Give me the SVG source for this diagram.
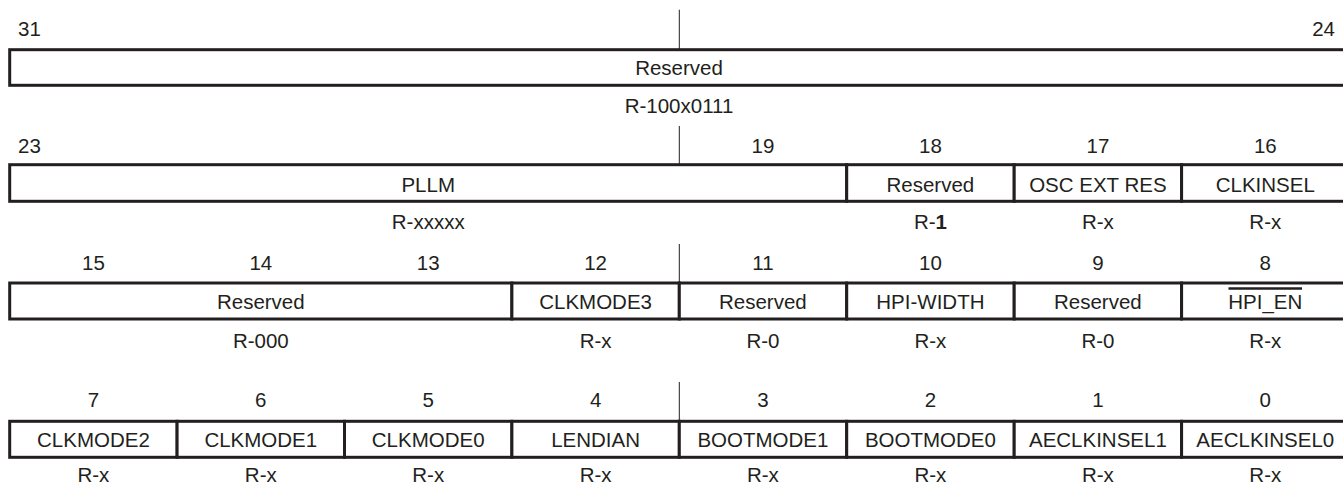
<svg xmlns="http://www.w3.org/2000/svg" width="1343" height="486" viewBox="0 0 1343 486">
<style>
.f{fill:#ffffff;stroke:#231f20;stroke-width:3}
.t{font-family:"Liberation Sans",Arial,sans-serif;font-size:20.5px;fill:#231f20;text-anchor:middle}
.l{text-anchor:start}
.r{text-anchor:end}
.tick{stroke:#231f20;stroke-width:1}
</style>
<rect width="1343" height="486" fill="#ffffff"/>
<g id="connectors">
<line class="tick" x1="679.3" y1="9.7" x2="679.3" y2="49.7"/>
<line class="tick" x1="679.3" y1="126" x2="679.3" y2="164.7"/>
<line class="tick" x1="679.3" y1="244" x2="679.3" y2="283"/>
<line class="tick" x1="679.3" y1="382" x2="679.3" y2="421.3"/>
</g>
<g id="bits">
<text class="t l" x="18" y="36">31</text>
<text class="t r" x="1335" y="36">24</text>
<text class="t l" x="18" y="152.7">23</text>
<text class="t" x="762.9" y="152.7">19</text>
<text class="t" x="930.4" y="152.7">18</text>
<text class="t" x="1097.9" y="152.7">17</text>
<text class="t" x="1265.3" y="152.7">16</text>
<text class="t" x="93.4" y="270">15</text>
<text class="t" x="260.8" y="270">14</text>
<text class="t" x="428.2" y="270">13</text>
<text class="t" x="595.6" y="270">12</text>
<text class="t" x="762.9" y="270">11</text>
<text class="t" x="930.4" y="270">10</text>
<text class="t" x="1097.9" y="270">9</text>
<text class="t" x="1265.3" y="270">8</text>
<text class="t" x="93.4" y="407.3">7</text>
<text class="t" x="260.8" y="407.3">6</text>
<text class="t" x="428.2" y="407.3">5</text>
<text class="t" x="595.6" y="407.3">4</text>
<text class="t" x="762.9" y="407.3">3</text>
<text class="t" x="930.4" y="407.3">2</text>
<text class="t" x="1097.9" y="407.3">1</text>
<text class="t" x="1265.3" y="407.3">0</text>
</g>
<g id="reserved31_24">
<rect class="f" x="9.7" y="49.7" width="1339.3" height="35.6"/>
<text class="t" x="679" y="75">Reserved</text>
<text class="t" x="679" y="113">R-100x0111</text>
</g>
<g id="pllm">
<rect class="f" x="9.7" y="164.7" width="837" height="36.6"/>
<text class="t" x="428.2" y="191.7">PLLM</text>
<text class="t" x="428.2" y="229.3">R-xxxxx</text>
</g>
<g id="reserved18">
<rect class="f" x="846.7" y="164.7" width="167.5" height="36.6"/>
<text class="t" x="930.4" y="191.7">Reserved</text>
<text class="t" x="930.4" y="229.3">R-<tspan font-weight="bold">1</tspan></text>
</g>
<g id="oscextres">
<rect class="f" x="1014.2" y="164.7" width="167.4" height="36.6"/>
<text class="t" x="1097.9" y="191.7">OSC EXT RES</text>
<text class="t" x="1097.9" y="229.3">R-x</text>
</g>
<g id="clkinsel">
<rect class="f" x="1181.6" y="164.7" width="167.4" height="36.6"/>
<text class="t" x="1265.3" y="191.7">CLKINSEL</text>
<text class="t" x="1265.3" y="229.3">R-x</text>
</g>
<g id="reserved15_13">
<rect class="f" x="9.7" y="283" width="502.2" height="36"/>
<text class="t" x="260.8" y="309">Reserved</text>
<text class="t" x="260.8" y="348">R-000</text>
</g>
<g id="clkmode3">
<rect class="f" x="511.9" y="283" width="167.4" height="36"/>
<text class="t" x="595.6" y="309">CLKMODE3</text>
<text class="t" x="595.6" y="348">R-x</text>
</g>
<g id="reserved11">
<rect class="f" x="679.3" y="283" width="167.4" height="36"/>
<text class="t" x="762.9" y="309">Reserved</text>
<text class="t" x="762.9" y="348">R-0</text>
</g>
<g id="hpiwidth">
<rect class="f" x="846.7" y="283" width="167.5" height="36"/>
<text class="t" x="930.4" y="309">HPI-WIDTH</text>
<text class="t" x="930.4" y="348">R-x</text>
</g>
<g id="reserved9">
<rect class="f" x="1014.2" y="283" width="167.4" height="36"/>
<text class="t" x="1097.9" y="309">Reserved</text>
<text class="t" x="1097.9" y="348">R-0</text>
</g>
<g id="hpien">
<rect class="f" x="1181.6" y="283" width="167.4" height="36"/>
<text class="t" x="1265.3" y="309">HPI_EN</text>
<line x1="1228.5" y1="288.5" x2="1302" y2="288.5" stroke="#231f20" stroke-width="2.5"/>
<text class="t" x="1265.3" y="348">R-x</text>
</g>
<g id="clkmode2">
<rect class="f" x="9.7" y="421.3" width="167.4" height="36"/>
<text class="t" x="93.4" y="447.3">CLKMODE2</text>
<text class="t" x="93.4" y="481.7">R-x</text>
</g>
<g id="clkmode1">
<rect class="f" x="177.1" y="421.3" width="167.4" height="36"/>
<text class="t" x="260.8" y="447.3">CLKMODE1</text>
<text class="t" x="260.8" y="481.7">R-x</text>
</g>
<g id="clkmode0">
<rect class="f" x="344.5" y="421.3" width="167.4" height="36"/>
<text class="t" x="428.2" y="447.3">CLKMODE0</text>
<text class="t" x="428.2" y="481.7">R-x</text>
</g>
<g id="lendian">
<rect class="f" x="511.9" y="421.3" width="167.4" height="36"/>
<text class="t" x="595.6" y="447.3">LENDIAN</text>
<text class="t" x="595.6" y="481.7">R-x</text>
</g>
<g id="bootmode1">
<rect class="f" x="679.3" y="421.3" width="167.4" height="36"/>
<text class="t" x="762.9" y="447.3">BOOTMODE1</text>
<text class="t" x="762.9" y="481.7">R-x</text>
</g>
<g id="bootmode0">
<rect class="f" x="846.7" y="421.3" width="167.5" height="36"/>
<text class="t" x="930.4" y="447.3">BOOTMODE0</text>
<text class="t" x="930.4" y="481.7">R-x</text>
</g>
<g id="aeclkinsel1">
<rect class="f" x="1014.2" y="421.3" width="167.4" height="36"/>
<text class="t" x="1097.9" y="447.3">AECLKINSEL1</text>
<text class="t" x="1097.9" y="481.7">R-x</text>
</g>
<g id="aeclkinsel0">
<rect class="f" x="1181.6" y="421.3" width="167.4" height="36"/>
<text class="t" x="1265.3" y="447.3">AECLKINSEL0</text>
<text class="t" x="1265.3" y="481.7">R-x</text>
</g>
</svg>
